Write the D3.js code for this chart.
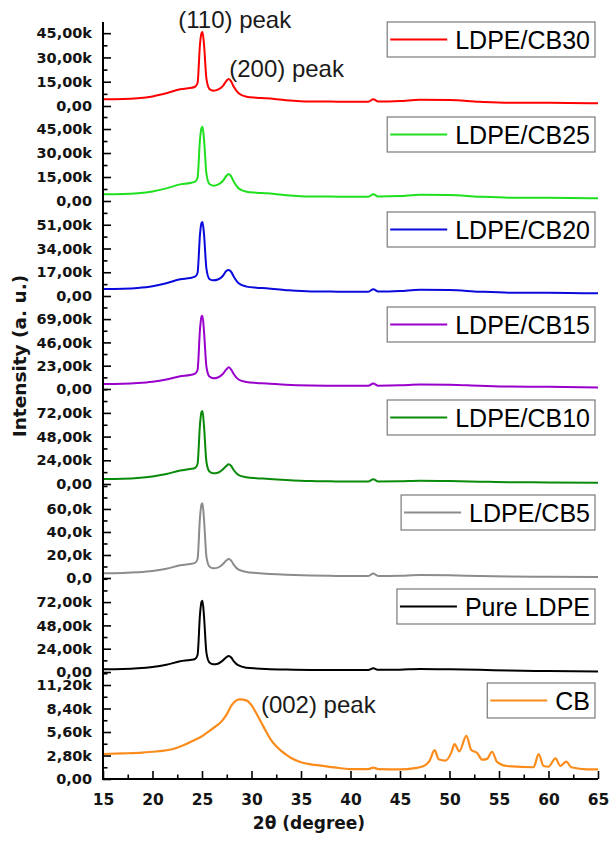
<!DOCTYPE html>
<html><head><meta charset="utf-8">
<script src="https://cdn.jsdelivr.net/npm/d3@7"></script>
<style>body{margin:0;background:#fff}</style>
</head><body>
<svg id="c" width="614" height="841"></svg>
<script>
// ---------- DATA ----------
const seriesNames = ["LDPE/CB30","LDPE/CB25","LDPE/CB20","LDPE/CB15","LDPE/CB10","LDPE/CB5","Pure LDPE","CB"];
const seriesColors = ["#ff0000","#1fe01f","#0a0adc","#9a00cc","#0a8a0a","#8c8c8c","#000000","#fb8c1c"];

// 2θ positions shared by the LDPE patterns
const theta = [15,17,18.5,20,21.4,22.8,23.8,24.3,24.55,24.8,24.95,25.05,25.2,25.45,25.75,26.15,26.6,27.1,27.45,27.7,27.95,28.2,28.7,29.5,30.5,31.5,33.5,36,38,40,41.8,42.3,42.8,45,47,50,53,56,60,65];
// intensities in thousands (k)
const cb30 = [4.13,4.32,4.81,5.92,7.84,10.3,11.1,11.9,14.2,38.3,45.0,45.7,38.3,16.7,10.5,9.44,10.1,12.3,15.4,16.7,15.1,12.0,7.84,5.74,5.12,4.75,3.58,2.78,2.71,2.65,2.65,4.13,2.78,3.09,3.89,3.70,2.65,2.04,2.04,1.67];
const cb25 = [4.2,4.4,4.9,6.0,7.9,10.4,11.3,12.1,14.4,38.8,45.6,46.4,38.8,16.9,10.6,9.6,10.2,12.5,15.6,16.9,15.3,12.2,7.9,5.8,5.2,4.8,3.6,2.8,2.75,2.7,2.7,4.2,2.8,3.1,3.9,3.75,2.7,2.1,2.1,1.7];
const cb20 = [5.0,5.2,5.7,6.9,9.1,12.0,12.9,13.8,16.5,44.4,52.2,52.9,44.4,19.4,12.2,11.2,11.8,14.3,17.9,18.6,17.2,14.0,9.1,6.7,5.9,5.5,4.2,3.2,3.15,3.1,3.1,4.8,3.2,3.6,4.5,4.3,3.1,2.4,2.4,1.9];
const cb15 = [4.9,5.2,5.9,7.2,9.4,12.6,13.8,15.1,18.8,59.2,71.6,72.3,57.2,21.7,12.3,10.6,11.4,14.8,19.2,21.4,19.2,14.8,9.4,6.9,5.9,5.4,4.2,3.5,3.3,3.2,3.2,5.4,3.3,3.6,4.5,4.2,3.2,2.4,2.2,1.5];
const cb10 = [5.1,5.4,6.1,7.6,10.1,13.7,15.2,16.2,20.3,60.8,72.9,74.0,58.8,22.3,12.7,10.8,11.4,14.7,18.2,20.0,18.2,14.2,9.1,6.9,5.9,5.3,4.1,3.0,2.7,2.5,2.5,4.8,2.6,2.8,3.3,3.0,2.4,1.8,1.6,1.2];
const cb5 = [4.1,4.4,5.0,6.1,8.1,11.0,12.2,13.1,16.5,53.1,63.9,65.0,51.3,18.3,10.0,8.4,9.0,12.0,15.2,16.5,15.1,11.6,7.2,5.2,4.4,3.7,2.9,2.2,1.9,1.7,1.7,3.9,1.8,2.0,2.5,2.3,1.7,1.3,1.1,0.9];
const pureLDPE = [2.8,3.1,3.8,5.2,7.5,11.0,12.4,13.4,17.5,59.7,72.1,73.4,57.7,19.6,9.8,7.9,8.5,11.8,15.1,16.5,14.9,11.3,6.7,4.4,3.6,3.1,2.5,2.1,2.1,2.1,2.1,3.9,2.2,2.4,3.1,2.8,2.3,1.5,1.0,0.4];

// carbon black pattern
const cbTheta = [15,17,19,20,21,22,23,24,25,26,27,27.5,28,28.4,28.8,29.2,29.6,30,30.5,31,31.5,32,32.5,33,33.5,34,35,36,37,38.4,40,41.8,42.3,42.8,45,46.5,47.4,48,48.5,48.9,49.6,50.2,50.5,51,51.7,52.2,52.8,53.3,53.8,54.3,54.8,55.8,58.5,59,59.5,60,60.7,61.2,61.8,62.3,63.9,65];
const cbValues = [2.98,3.05,3.15,3.25,3.35,3.55,3.95,4.5,5.1,5.95,6.9,7.7,8.8,9.3,9.5,9.45,9.3,8.8,7.8,6.7,5.6,4.6,3.9,3.35,2.9,2.5,2.0,1.75,1.6,1.38,1.18,1.18,1.35,1.18,1.15,1.3,1.55,2.2,3.45,2.35,2.2,3.2,4.15,3.3,5.15,3.45,3.1,2.3,2.4,3.25,2.05,1.55,1.4,2.98,1.55,1.46,2.46,1.55,2.06,1.4,1.15,1.15];

// y-axis ticks per panel (values in k) and their labels
const yTickValues = [[0,15,30,45],[0,15,30,45],[0,17,34,51],[0,23,46,69],[0,24,48,72],[0,20,40,60],[0,24,48,72],[0,2.8,5.6,8.4,11.2]];
const yTickLabels = [
  ["0,00","15,00k","30,00k","45,00k"],
  ["0,00","15,00k","30,00k","45,00k"],
  ["0,00","17,00k","34,00k","51,00k"],
  ["0,00","23,00k","46,00k","69,00k"],
  ["0,00","24,00k","48,00k","72,00k"],
  ["0,0","20,0k","40,0k","60,0k"],
  ["0,00","24,00k","48,00k","72,00k"],
  ["0,00","2,80k","5,60k","8,40k","11,20k"]];
const yMinorStep = [7.5,7.5,8.5,11.5,12,10,12,1.4];
const yDomainMax = [51.9,59.4,68.0,91.8,96.2,81.7,96.8,12.75];

const xTickValues = [15,20,25,30,35,40,45,50,55,60,65];
const xMinorTicks = [17.5,22.5,27.5,32.5,37.5,42.5,47.5,52.5,57.5,62.5];

const annotations = [
  {text:"(110) peak", panel:0, t:22.6, v:48.1},
  {text:"(200) peak", panel:0, t:27.75, v:17.9},
  {text:"(002) peak", panel:7, t:30.95, v:7.86}
];

// ---------- LAYOUT ----------
const seriesData = [cb30,cb25,cb20,cb15,cb10,cb5,pureLDPE].map(vals => theta.map((t,i)=>[t,vals[i]]));
seriesData.push(cbTheta.map((t,i)=>[t,cbValues[i]]));

const X0 = 103, X1 = 598, axisTop = 22;
const panelBottoms = [106,201,296,389,484,578,672,779];
const legendRight = 595;

const svg = d3.select("#c");
const x = d3.scaleLinear().domain([15,65]).range([X0,X1]);

const panels = seriesNames.map((name,i)=>{
  const bottom = panelBottoms[i];
  const top = i === 0 ? axisTop : panelBottoms[i-1];
  const y = d3.scaleLinear().domain([0, yDomainMax[i]]).range([bottom, top]);
  return {name, i, bottom, top, y};
});

// curves
const line = d3.line().curve(d3.curveMonotoneX);
panels.forEach(p=>{
  line.x(d=>x(d[0])).y(d=>p.y(d[1]));
  svg.append("path").datum(seriesData[p.i])
    .attr("d", line)
    .attr("fill","none")
    .attr("stroke", seriesColors[p.i])
    .attr("stroke-width", p.i===7 ? 2.2 : 2)
    .attr("stroke-linejoin","round");
});

// y axes
panels.forEach(p=>{
  const vals = yTickValues[p.i], labs = yTickLabels[p.i];
  const g = svg.append("g").attr("transform",`translate(${X0},0)`);
  g.call(d3.axisLeft(p.y).tickValues(vals).tickFormat(d=>labs[vals.indexOf(d)])
      .tickSize(-8).tickPadding(11).tickSizeOuter(0));
  g.select(".domain").remove();
  g.attr("font-family","DejaVu Sans").attr("font-size",14.5).attr("font-weight","bold");
  g.selectAll("text").attr("fill","#141414");
  g.selectAll("line").attr("stroke","#000").attr("stroke-width",1.6);
  const minor = d3.range(yMinorStep[p.i]/2 === 0 ? 0 : yMinorStep[p.i], yDomainMax[p.i], yMinorStep[p.i])
      .filter(v => !vals.some(t=>Math.abs(t-v)<1e-6));
  const gm = svg.append("g").attr("transform",`translate(${X0},0)`);
  gm.call(d3.axisLeft(p.y).tickValues(minor).tickFormat("").tickSize(-4.5).tickSizeOuter(0));
  gm.select(".domain").remove();
  gm.selectAll("line").attr("stroke","#000").attr("stroke-width",1.6);
});

// x axis
const gx = svg.append("g").attr("transform",`translate(0,${panelBottoms[7]})`);
gx.call(d3.axisBottom(x).tickValues(xTickValues).tickFormat(d=>d).tickSize(-8).tickPadding(15).tickSizeOuter(0));
gx.select(".domain").remove();
gx.attr("font-family","DejaVu Sans").attr("font-size",15.5).attr("font-weight","bold");
gx.selectAll("text").attr("fill","#141414");
gx.selectAll("line").attr("stroke","#000").attr("stroke-width",1.6);
const gxm = svg.append("g").attr("transform",`translate(0,${panelBottoms[7]})`);
gxm.call(d3.axisBottom(x).tickValues(xMinorTicks).tickFormat("").tickSize(-4.5).tickSizeOuter(0));
gxm.select(".domain").remove();
gxm.selectAll("line").attr("stroke","#000").attr("stroke-width",1.6);

// axis lines
svg.append("path")
  .attr("d",`M${X0},${axisTop}V${panelBottoms[7]}H${X1}`)
  .attr("fill","none").attr("stroke","#000").attr("stroke-width",2);

// axis titles
svg.append("text").text("2θ (degree)")
  .attr("x", 309).attr("y", 829).attr("text-anchor","middle")
  .attr("font-family","DejaVu Sans").attr("font-weight","bold").attr("font-size",17).attr("fill","#141414");
svg.append("text").text("Intensity (a. u.)")
  .attr("transform","translate(26,356) rotate(-90)").attr("text-anchor","middle")
  .attr("font-family","DejaVu Sans").attr("font-weight","bold").attr("font-size",18.5).attr("fill","#141414");

// annotations
annotations.forEach(a=>{
  svg.append("text").text(a.text)
    .attr("x", x(a.t)).attr("y", panels[a.panel].y(a.v))
    .attr("font-family","Liberation Sans, Arial, sans-serif").attr("font-size",24).attr("fill","#1a1a1a");
});

// legends
panels.forEach(p=>{
  const topY = p.i === 0 ? axisTop : p.top + 11;
  const g = svg.append("g");
  const txt = g.append("text").text(p.name)
    .attr("font-family","Liberation Sans, Arial, sans-serif").attr("font-size",25).attr("fill","#000");
  const tw = txt.node().getComputedTextLength();
  const w = 3 + 57 + 8 + tw + 5;
  const left = legendRight - w;
  g.insert("rect","text").attr("x",left).attr("y",topY).attr("width",w).attr("height",35)
    .attr("fill","#fff").attr("stroke","#7a7a7a").attr("stroke-width",1.2);
  g.append("line").attr("x1",left+3).attr("x2",left+60).attr("y1",topY+17.5).attr("y2",topY+17.5)
    .attr("stroke",seriesColors[p.i]).attr("stroke-width",2);
  txt.attr("x",left+68).attr("y",topY+27);
});
</script>
</body></html>
